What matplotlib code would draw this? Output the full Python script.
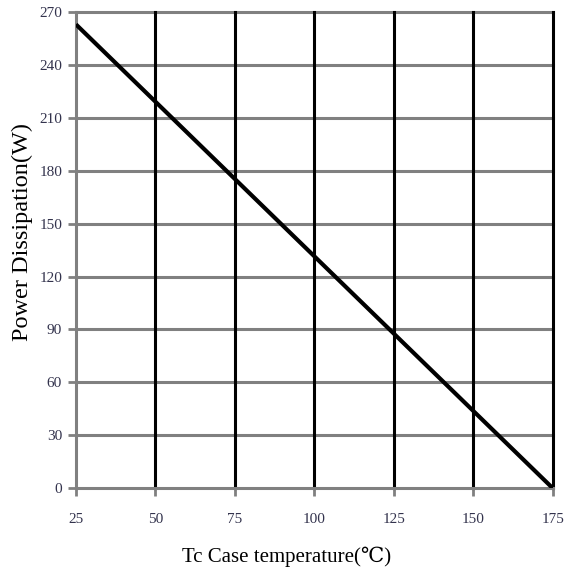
import matplotlib
matplotlib.use("Agg")
import matplotlib.pyplot as plt

# derating curve
case_temp = [25, 175]
power_w = [263, 0]

x_ticks = [25, 50, 75, 100, 125, 150, 175]
y_ticks = [0, 30, 60, 90, 120, 150, 180, 210, 240, 270]

SERIF = ["Liberation Serif", "DejaVu Serif", "DejaVu Sans"]
GRAY = "#808080"
TICK_TXT = "#33334d"

fig = plt.figure(figsize=(5.71, 5.73), dpi=100)
ax = fig.add_axes([0.133, 0.148, 0.835, 0.831])

ax.set_xlim(25, 175)
ax.set_ylim(0, 270)

# horizontal grid (gray), vertical grid (black)
for y in y_ticks[1:]:
    ax.axhline(y, color=GRAY, lw=2.2, zorder=1, clip_on=False)
for x in x_ticks[1:]:
    ax.axvline(x, color="black", lw=2.2, zorder=2, clip_on=False)

ax.plot(case_temp, power_w, color="black", lw=3, zorder=3, solid_capstyle="butt")

for side in ["top", "right"]:
    ax.spines[side].set_visible(False)
for side in ["left", "bottom"]:
    ax.spines[side].set_color(GRAY)
    ax.spines[side].set_linewidth(2.2)

ax.set_xticks(x_ticks)
ax.set_yticks(y_ticks)
ax.tick_params(axis="both", colors=GRAY, width=2, length=6, labelcolor=TICK_TXT,
               labelsize=11)
ax.tick_params(axis="x", pad=12)
ax.tick_params(axis="y", pad=4)
for lab in ax.get_xticklabels() + ax.get_yticklabels():
    lab.set_family(SERIF)

ax.set_xlabel("Tc Case temperature(℃)", family=SERIF, fontsize=15, va="center")
ax.set_ylabel("Power Dissipation(W)", family=SERIF, fontsize=17.5, va="center")
ax.xaxis.set_label_coords(0.442, -0.145)
ax.yaxis.set_label_coords(-0.112, 0.539)

fig.savefig("out.png", dpi=100)
